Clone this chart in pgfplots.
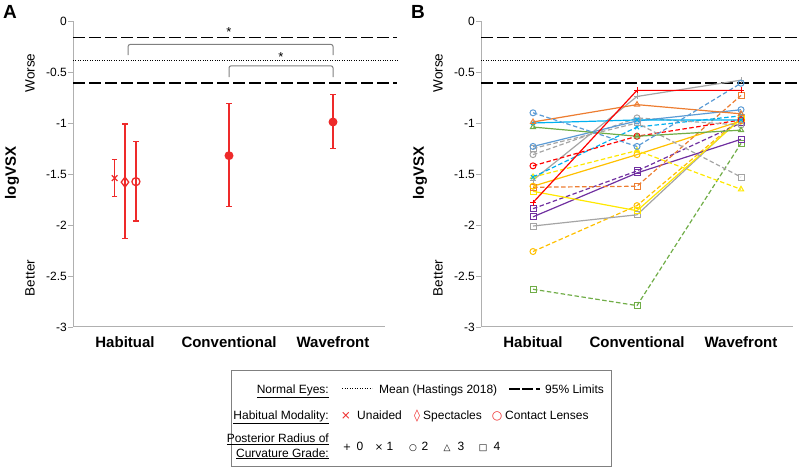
\documentclass[border=0pt]{standalone}
\usepackage{pgfplots}
\pgfplotsset{compat=1.18}
\usepackage{fontspec}
\setmainfont{Liberation Sans}
\newfontfamily\symfont{DejaVu Sans}
\definecolor{cred}{HTML}{EE2A2A}
\definecolor{axisgray}{HTML}{B0B0B0}
\definecolor{brgray}{HTML}{808080}
\definecolor{cblue}{HTML}{5B9BD5}
\definecolor{corange}{HTML}{ED7D31}
\definecolor{cgray}{HTML}{A5A5A5}
\definecolor{cgold}{HTML}{FFC000}
\definecolor{cgreen}{HTML}{70AD47}
\definecolor{clblue}{HTML}{00B0F0}
\definecolor{cr}{HTML}{FF0000}
\definecolor{cyellow}{HTML}{FFE800}
\definecolor{cpurple}{HTML}{7030A0}
\pgfplotsset{
  myaxis/.style={
    scale only axis, width=312bp, height=306bp,
    xmin=-0.5, xmax=2.5, ymin=-3, ymax=0,
    axis x line*=bottom, axis y line*=left,
    axis line style={draw=axisgray, line width=1bp, -},
    xtick={0,1,2}, xticklabels={Habitual,Conventional,Wavefront},
    x tick label style={font=\fontsize{15bp}{18bp}\selectfont\bfseries, anchor=north, inner sep=0pt, yshift=-4bp},
    x tick style={draw=none},
    ytick={-3,-2.5,-2,-1.5,-1,-0.5,0},
    yticklabels={-3,-2.5,-2,-1.5,-1,-0.5,0},
    y tick label style={font=\fontsize{12bp}{14bp}\selectfont, inner sep=1bp},
    tick align=outside, major tick length=5bp,
    y tick style={draw=axisgray, line width=0.8bp},
    clip=false,
  },
  refdash/.style={black, line width=1.5bp, dash pattern=on 12bp off 4bp},
  refdot/.style={black, line width=1.1bp, dash pattern=on 1bp off 1.4bp},
  ser/.style={line width=1.2bp, mark size=3bp, mark options={solid, fill=white, line width=1bp}},
  dsh/.style={dash pattern=on 4.5bp off 2.5bp},
  ebar/.style={error bars/.cd, y dir=both, y explicit,
    error bar style={line width=1.4bp, draw=cred, solid},
    error mark=-,
    error mark options={rotate=90, draw=cred, line width=1.4bp, mark size=2.8bp, solid}},
}
\begin{document}
\begin{tikzpicture}
\useasboundingbox (0,0) rectangle (800bp,470bp);
% ---------------- Panel A ----------------
\begin{axis}[myaxis, at={(73bp,143bp)}, anchor=south west]
\addplot[refdash] coordinates {(-0.5,-0.16) (2.62,-0.16)};
\addplot[refdash] coordinates {(-0.5,-0.61) (2.62,-0.61)};
\addplot[refdot] coordinates {(-0.5,-0.39) (2.62,-0.39)};
\draw[brgray, line width=1bp, rounded corners=2bp] (axis cs:0.03,-0.335) -- (axis cs:0.03,-0.23) -- (axis cs:2,-0.23) -- (axis cs:2,-0.335);
\draw[brgray, line width=1bp, rounded corners=2bp] (axis cs:1,-0.55) -- (axis cs:1,-0.44) -- (axis cs:2,-0.44) -- (axis cs:2,-0.55);
\node[font=\fontsize{13bp}{15bp}\selectfont] at (axis cs:1,-0.105) {*};
\node[font=\fontsize{13bp}{15bp}\selectfont] at (axis cs:1.5,-0.355) {*};
% error bars only
\addplot[draw=none, mark=none, ebar]
  coordinates {(-0.1,-1.54) += (0,0.18) -= (0,0.18)};
\addplot[draw=none, mark=none, ebar]
  coordinates {(0,-1.58) += (0,0.57) -= (0,0.55)};
\addplot[draw=none, mark=none, ebar]
  coordinates {(0.105,-1.575) += (0,0.395) -= (0,0.385)};
\addplot[draw=none, mark=none, ebar]
  coordinates {(1,-1.32) += (0,0.51) -= (0,0.50) (2,-0.99) += (0,0.27) -= (0,0.26)};
% markers
\addplot[color=cred, only marks, mark=x, mark size=4bp, line width=1.3bp]
  coordinates {(-0.1,-1.54)};
\addplot[color=cred, only marks, mark=o, mark size=4bp, line width=1.3bp, mark options={fill=white}]
  coordinates {(0.105,-1.575)};
\addplot[color=cred, only marks, mark=diamond, mark size=5bp, line width=1.3bp, mark options={fill=white}]
  coordinates {(0,-1.58)};
\addplot[color=cred, only marks, mark=*, mark size=3.8bp, line width=1.3bp, mark options={fill=cred}]
  coordinates {(1,-1.32) (2,-0.99)};
\end{axis}
% ---------------- Panel B ----------------
\begin{axis}[myaxis, at={(481bp,143bp)}, anchor=south west]
\addplot[refdash] coordinates {(-0.5,-0.16) (2.62,-0.16)};
\addplot[refdash] coordinates {(-0.5,-0.61) (2.62,-0.61)};
\addplot[refdot] coordinates {(-0.5,-0.39) (2.62,-0.39)};
\addplot[ser, cgreen, dsh, mark=square] coordinates {(0,-2.63) (1,-2.79) (2,-1.20)};
\addplot[ser, cgold, dsh, mark=o] coordinates {(0,-2.26) (1,-1.81) (2,-0.95)};
\addplot[ser, cgray, mark=square] coordinates {(0,-2.01) (1,-1.90) (2,-0.95)};
\addplot[ser, cpurple, mark=square] coordinates {(0,-1.92) (1,-1.49) (2,-1.16)};
\addplot[ser, cpurple, dsh, mark=square] coordinates {(0,-1.84) (1,-1.47) (2,-1.00)};
\addplot[ser, cyellow, mark=square] coordinates {(0,-1.67) (1,-1.86) (2,-0.96)};
\addplot[ser, corange, dsh, mark=square] coordinates {(0,-1.63) (1,-1.62) (2,-0.73)};
\addplot[ser, cgold, mark=o] coordinates {(0,-1.62) (1,-1.31) (2,-0.98)};
\addplot[ser, cgray, mark=+] coordinates {(0,-1.56) (1,-0.74) (2,-0.58)};
\addplot[ser, cyellow, dsh, mark=triangle] coordinates {(0,-1.53) (1,-1.27) (2,-1.65)};
\addplot[ser, clblue, dsh, mark=x] coordinates {(0,-1.53) (1,-1.04) (2,-0.93)};
\addplot[ser, cr, dsh, mark=o] coordinates {(0,-1.42) (1,-1.13) (2,-0.97)};
\addplot[ser, cgray, dsh, mark=o] coordinates {(0,-1.31) (1,-0.95) (2,-1.02)};
\addplot[ser, cgray, dsh, mark=square] coordinates {(0,-1.25) (1,-1.00) (2,-1.53)};
\addplot[ser, cblue, mark=o] coordinates {(0,-1.23) (1,-0.98) (2,-0.87)};
\addplot[ser, cgreen, mark=triangle] coordinates {(0,-1.04) (1,-1.13) (2,-1.07)};
\addplot[ser, clblue, mark=x] coordinates {(0,-1.00) (1,-0.97) (2,-0.97)};
\addplot[ser, corange, mark=triangle] coordinates {(0,-0.99) (1,-0.82) (2,-0.91)};
\addplot[ser, cblue, dsh, mark=o] coordinates {(0,-0.90) (1,-1.23) (2,-0.61)};
\addplot[ser, cr, mark=+] coordinates {(0,-1.78) (1,-0.68) (2,-0.68)};
\end{axis}
% ---------------- Labels ----------------
\node[font=\fontsize{19bp}{21bp}\selectfont\bfseries] at (10bp,458bp) {A};
\node[font=\fontsize{19bp}{21bp}\selectfont\bfseries] at (418bp,458bp) {B};
\foreach \xo in {0,408}{
  \node[rotate=90, font=\fontsize{15bp}{18bp}\selectfont\bfseries] at ({(12+\xo)*1bp},297bp) {logVSX};
  \node[rotate=90, font=\fontsize{13.5bp}{16bp}\selectfont] at ({(30+\xo)*1bp},397bp) {Worse};
  \node[rotate=90, font=\fontsize{13.5bp}{16bp}\selectfont] at ({(30+\xo)*1bp},192bp) {Better};
}
% ---------------- Legend ----------------
\draw[brgray, line width=1bp] (231bp,3bp) rectangle (611bp,99bp);
\begin{scope}[every node/.style={font=\fontsize{12bp}{14bp}\selectfont, inner sep=0pt}]
\node[anchor=base east] at (329bp,76.5bp) {\underline{Normal Eyes:}};
\draw[black, line width=1bp, dash pattern=on 1bp off 1.5bp] (342bp,81bp) -- (372bp,81bp);
\node[anchor=base west] at (379bp,76.5bp) {Mean (Hastings 2018)};
\draw[black, line width=1.5bp, dash pattern=on 11bp off 2bp on 11bp off 3bp on 4bp off 10bp] (509bp,81bp) -- (542bp,81bp);
\node[anchor=base west] at (545bp,76.5bp) {95\% Limits};
\node[anchor=base east] at (329bp,50.7bp) {\underline{Habitual Modality:}};
\node[anchor=base, text=cred] at (346bp,50.7bp) {\symfont ×};
\node[anchor=base west] at (357bp,50.7bp) {Unaided};
\node[anchor=base, text=cred] at (417bp,50.7bp) {\symfont ◊};
\node[anchor=base west] at (423bp,50.7bp) {Spectacles};
\node[anchor=base, text=cred] at (497bp,50.7bp) {\symfont ○};
\node[anchor=base west] at (505bp,50.7bp) {Contact Lenses};
\node[anchor=base east] at (329bp,27.4bp) {\underline{Posterior Radius of}};
\node[anchor=base east] at (329bp,13bp) {\underline{Curvature Grade:}};
\node[anchor=base] at (347bp,20bp) {\symfont\fontsize{10bp}{12bp}\selectfont +};
\node[anchor=base] at (360bp,20bp) {0};
\node[anchor=base] at (379bp,20bp) {\symfont\fontsize{10bp}{12bp}\selectfont ×};
\node[anchor=base] at (390bp,20bp) {1};
\node[anchor=base] at (413bp,20bp) {\symfont\fontsize{9bp}{12bp}\selectfont ○};
\node[anchor=base] at (425bp,20bp) {2};
\node[anchor=base] at (447bp,20bp) {\symfont\fontsize{9bp}{12bp}\selectfont △};
\node[anchor=base] at (461bp,20bp) {3};
\node[anchor=base] at (483bp,20bp) {\symfont\fontsize{9bp}{12bp}\selectfont □};
\node[anchor=base] at (497bp,20bp) {4};
\end{scope}
\end{tikzpicture}
\end{document}
